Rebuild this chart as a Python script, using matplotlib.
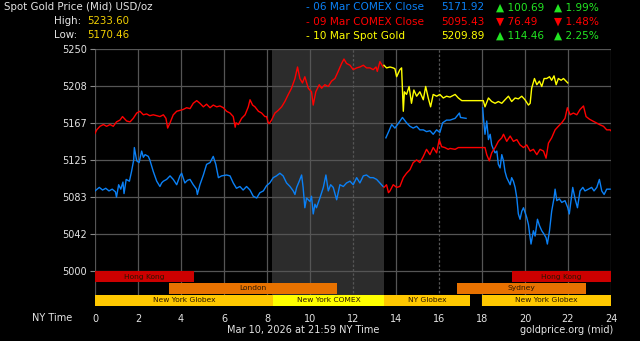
import matplotlib
matplotlib.use("Agg")
import matplotlib.pyplot as plt

# ------------------ data ------------------
# 06 Mar COMEX close line (blue), three pieces
blue_a_hours = [0.0, 0.2, 0.35, 0.5, 0.65, 0.8, 0.95, 1.0, 1.1, 1.2, 1.3, 1.35, 1.45, 1.6, 1.7,
                1.8, 1.83, 1.94, 2.05, 2.17, 2.25, 2.33, 2.48, 2.55, 2.71, 2.87, 3.02, 3.1, 3.18,
                3.33, 3.49, 3.64, 3.8, 3.95, 4.03, 4.18, 4.3, 4.42, 4.57, 4.72, 4.76, 4.88, 5.04,
                5.19, 5.35, 5.5, 5.62, 5.74, 5.89, 6.12, 6.28, 6.43, 6.58, 6.74, 6.89, 7.05, 7.21,
                7.36, 7.52, 7.67, 7.83, 7.98, 8.13, 8.29, 8.44, 8.6, 8.75, 8.91, 9.07, 9.22, 9.3,
                9.38, 9.5, 9.61, 9.68, 9.76, 9.84, 10.0, 10.07, 10.15, 10.23, 10.3, 10.46, 10.62,
                10.74, 10.85, 10.96, 11.08, 11.24, 11.39, 11.55, 11.7, 11.86, 12.01, 12.17, 12.32,
                12.48, 12.63, 12.79, 12.94, 13.1, 13.25, 13.4]
blue_a_prices = [5090, 5094, 5091, 5093, 5090, 5092, 5089, 5083, 5097, 5092, 5100, 5087, 5103, 5101, 5112,
                 5125, 5139, 5124, 5122, 5135, 5128, 5131, 5129, 5125, 5112, 5101, 5095, 5099, 5101,
                 5103, 5107, 5103, 5097, 5107, 5110, 5099, 5102, 5103, 5097, 5092, 5086, 5097, 5108,
                 5120, 5122, 5129, 5120, 5105, 5107, 5108, 5107, 5099, 5093, 5095, 5091, 5095, 5091,
                 5084, 5082, 5088, 5090, 5096, 5099, 5105, 5107, 5110, 5107, 5099, 5095, 5090, 5086,
                 5094, 5101, 5108, 5094, 5071, 5082, 5078, 5084, 5064, 5075, 5071, 5082, 5094,
                 5108, 5090, 5097, 5094, 5080, 5097, 5095, 5099, 5101, 5097, 5105, 5099,
                 5107, 5108, 5105, 5105, 5103, 5099, 5095]

blue_b_hours = [13.53, 13.64, 13.8, 13.95, 14.1, 14.3, 14.49, 14.65, 14.8, 14.96, 15.11, 15.27,
                15.42, 15.58, 15.73, 15.89, 16.04, 16.17, 16.35, 16.51, 16.75, 16.95, 17.0, 17.26]
blue_b_prices = [5150, 5156, 5165, 5161, 5166, 5173, 5167, 5163, 5161, 5163, 5159, 5159,
                 5157, 5158, 5154, 5159, 5156, 5167, 5170, 5170, 5172, 5178, 5173, 5172]

blue_c_hours = [18.03, 18.08, 18.14, 18.22, 18.3, 18.38, 18.45, 18.53, 18.61, 18.69, 18.76, 18.84,
                18.92, 19.0, 19.07, 19.15, 19.23, 19.31, 19.38, 19.46, 19.54, 19.62, 19.69, 19.77,
                19.85, 19.93, 20.0, 20.08, 20.16, 20.24, 20.28, 20.39, 20.47, 20.58, 20.67, 20.78,
                20.89, 20.98, 21.04, 21.14, 21.24, 21.35, 21.4, 21.48, 21.6, 21.71, 21.86, 21.99,
                22.06, 22.14, 22.22, 22.33, 22.44, 22.56, 22.69, 22.79, 22.95, 23.1, 23.21, 23.34,
                23.46, 23.57, 23.68, 23.8, 23.96]
blue_c_prices = [5184, 5169, 5154, 5169, 5148, 5154, 5142, 5137, 5133, 5135, 5120, 5116,
                 5131, 5124, 5112, 5105, 5101, 5097, 5105, 5101, 5094, 5082, 5064, 5058,
                 5067, 5071, 5066, 5060, 5052, 5037, 5030, 5045, 5039, 5058, 5051, 5045,
                 5041, 5037, 5030, 5045, 5067, 5082, 5092, 5079, 5081, 5077, 5079, 5071,
                 5064, 5079, 5094, 5081, 5071, 5090, 5094, 5090, 5092, 5094, 5090, 5094,
                 5103, 5090, 5086, 5092, 5092]

# 09 Mar COMEX close line (red), two pieces
red_a_hours = [0.0, 0.08, 0.23, 0.39, 0.54, 0.7, 0.85, 1.0, 1.16, 1.28, 1.47, 1.63, 1.78, 1.94,
               2.09, 2.25, 2.4, 2.55, 2.71, 2.87, 3.02, 3.18, 3.3, 3.38, 3.49, 3.64, 3.8, 3.95,
               4.1, 4.26, 4.42, 4.57, 4.73, 4.88, 5.04, 5.19, 5.35, 5.5, 5.66, 5.81, 5.97, 6.12,
               6.28, 6.43, 6.52, 6.56, 6.67, 6.82, 6.98, 7.13, 7.21, 7.33, 7.44, 7.6, 7.75, 7.9,
               7.98, 8.06, 8.1, 8.21, 8.37, 8.52, 8.68, 8.83, 8.99, 9.14, 9.3, 9.42, 9.53, 9.65,
               9.76, 9.92, 10.07, 10.15, 10.27, 10.43, 10.54, 10.69, 10.85, 11.0, 11.16, 11.31,
               11.47, 11.58, 11.7, 11.86, 12.01, 12.17, 12.32, 12.48, 12.63, 12.79, 12.94, 13.07,
               13.13, 13.25, 13.4]
red_a_prices = [5155, 5159, 5163, 5165, 5163, 5165, 5163, 5168, 5170, 5174, 5169, 5168, 5172, 5178,
                5180, 5176, 5177, 5175, 5176, 5175, 5174, 5176, 5172, 5161, 5167, 5176, 5180, 5181,
                5182, 5184, 5183, 5189, 5192, 5189, 5185, 5188, 5184, 5187, 5185, 5186, 5184, 5180,
                5178, 5174, 5162, 5167, 5165, 5172, 5176, 5185, 5193, 5187, 5185, 5180, 5178, 5174,
                5174, 5167, 5166, 5170, 5178, 5181, 5185, 5191, 5199, 5206, 5217, 5230, 5217, 5212,
                5219, 5206, 5202, 5187, 5202, 5210, 5206, 5210, 5208, 5214, 5217, 5225,
                5234, 5239, 5234, 5232, 5227, 5229, 5230, 5232, 5229, 5229, 5227, 5230,
                5225, 5236, 5230]

red_b_hours = [13.44, 13.56, 13.65, 13.72, 13.87, 14.03, 14.18, 14.34, 14.49, 14.65, 14.8, 14.96,
               15.11, 15.27, 15.42, 15.58, 15.73, 15.89, 16.01, 16.12, 16.27, 16.43, 16.51, 16.75,
               16.9, 17.06, 18.14, 18.22, 18.34, 18.45, 18.61, 18.76, 18.92, 19.0, 19.15, 19.31,
               19.46, 19.62, 19.77, 19.93, 20.08, 20.24, 20.39, 20.55, 20.7, 20.86, 20.98, 21.09,
               21.24, 21.4, 21.55, 21.71, 21.86, 21.97, 22.1, 22.25, 22.41, 22.56, 22.72, 22.84,
               23.0, 23.15, 23.31, 23.46, 23.65, 23.8, 23.96, 24.0]
red_b_prices = [5094, 5097, 5088, 5090, 5097, 5094, 5095, 5105, 5110, 5114, 5122, 5125,
                5122, 5129, 5137, 5131, 5139, 5133, 5148, 5140, 5139, 5137, 5138, 5137,
                5139, 5139, 5139, 5131, 5124, 5133, 5139, 5146, 5150, 5154, 5146, 5152,
                5146, 5148, 5142, 5139, 5142, 5135, 5137, 5131, 5137, 5135, 5127, 5144,
                5150, 5159, 5163, 5167, 5172, 5184, 5176, 5178, 5176, 5182, 5186, 5174,
                5171, 5169, 5167, 5165, 5163, 5159, 5159, 5158]

# 10 Mar spot gold (yellow)
yellow_hours = [13.44, 13.56, 13.72, 13.87, 13.95, 14.03, 14.18, 14.26, 14.34, 14.39, 14.49, 14.61,
                14.72, 14.83, 14.96, 15.11, 15.27, 15.38, 15.5, 15.61, 15.73, 15.89, 16.04, 16.2,
                16.35, 16.51, 16.75, 16.9, 17.06, 18.06, 18.14, 18.3, 18.45, 18.61, 18.76, 18.92,
                19.07, 19.23, 19.38, 19.54, 19.69, 19.85, 20.0, 20.16, 20.24, 20.31, 20.44, 20.55,
                20.67, 20.78, 20.89, 21.01, 21.14, 21.24, 21.35, 21.45, 21.55, 21.68, 21.79, 21.91,
                21.99]
yellow_prices = [5232, 5229, 5230, 5229, 5228, 5219, 5227, 5229, 5180, 5202, 5199, 5208,
                 5189, 5204, 5197, 5202, 5193, 5208, 5195, 5185, 5199, 5197, 5199, 5195,
                 5197, 5196, 5199, 5195, 5192, 5192, 5185, 5195, 5191, 5189, 5191, 5189,
                 5193, 5197, 5191, 5195, 5194, 5197, 5193, 5187, 5189, 5206, 5217, 5210,
                 5214, 5208, 5217, 5217, 5219, 5215, 5220, 5210, 5217, 5215, 5217, 5214,
                 5212]

y_ticks = [5000, 5041.67, 5083.33, 5125, 5166.67, 5208.33, 5250]
y_labels = ["5000", "5042", "5083", "5125", "5167", "5208", "5250"]
x_ticks = [0, 2, 4, 6, 8, 10, 12, 14, 16, 18, 20, 22, 24]

# market sessions: name, start hour, end hour, row (0 = top)
session_names = ["Hong Kong", "Hong Kong", "London", "Sydney", "New York Globex",
                 "New York COMEX", "NY Globex", "New York Globex"]
session_start = [0.0, 19.4, 3.43, 16.82, 0.0, 8.3, 13.45, 18.0]
session_end = [4.6, 24.0, 11.25, 22.84, 8.3, 13.45, 17.44, 24.0]
session_row = [0, 0, 1, 1, 2, 2, 2, 2]
session_colors = ["#cc0000", "#cc0000", "#e87200", "#e87200", "#ffc800",
                  "#ffff00", "#ffc800", "#ffc800"]

comex_shade = (8.25, 13.42)

legend_labels = ["- 06 Mar COMEX Close", "- 09 Mar COMEX Close", "- 10 Mar Spot Gold"]
legend_prices = ["5171.92", "5095.43", "5209.89"]
legend_changes = ["\u25b2 100.69", "\u25bc 76.49", "\u25b2 114.46"]
legend_pcts = ["\u25b2 1.99%", "\u25bc 1.48%", "\u25b2 2.25%"]
legend_up = [True, False, True]

high_val = "5233.60"
low_val = "5170.46"

# ------------------ style ------------------
BLUE = "#0b80f5"
RED = "#ff0000"
YELLOW = "#ffff00"
GREEN = "#22e622"
GOLD = "#f2d000"
TEXT = "#e4e4e4"
GRID = "#555555"
W, H = 640, 341


def fpos(x, y):
    # pixel position (top-left origin) -> figure fraction
    return x / W, 1 - y / H


fig = plt.figure(figsize=(6.4, 3.41), dpi=100, facecolor="black")
ax = fig.add_axes([95 / W, (H - 306) / H, 516 / W, (306 - 49.3) / H])
ax.set_facecolor("black")
ax.set_xlim(0, 24)
ax.set_ylim(4960, 5250)
for s in ax.spines.values():
    s.set_visible(False)

# grid
for yv in y_ticks:
    ax.axhline(yv, color=GRID, lw=0.9, zorder=1)
for xv in x_ticks:
    ls = (0, (2, 1.5)) if xv in (12, 16) else "-"
    ax.axvline(xv, color=GRID, lw=0.9, ls=ls, zorder=1)

ax.axvspan(comex_shade[0], comex_shade[1], color="#2c2c2c", lw=0, zorder=0.5)

# session bars
row_bottoms = [4986.8, 4973.6, 4960.2]
row_heights = [13.0, 12.6, 12.6]
for name, s0, s1, r, c in zip(session_names, session_start, session_end, session_row, session_colors):
    ax.broken_barh([(s0, s1 - s0)], (row_bottoms[r], row_heights[r]),
                   facecolors=c, edgecolor="none", zorder=2)
    ax.text((s0 + s1) / 2, row_bottoms[r] + row_heights[r] / 2, name,
            ha="center", va="center", fontsize=5.4, color="#2a1500", zorder=3)

# price lines
ax.plot(blue_a_hours, blue_a_prices, color=BLUE, lw=1.0, zorder=4)
ax.plot(blue_b_hours, blue_b_prices, color=BLUE, lw=1.0, zorder=4)
ax.plot(blue_c_hours, blue_c_prices, color=BLUE, lw=1.0, zorder=4)
ax.plot(red_a_hours, red_a_prices, color=RED, lw=1.0, zorder=4)
ax.plot(red_b_hours, red_b_prices, color=RED, lw=1.0, zorder=4)
ax.plot(yellow_hours, yellow_prices, color=YELLOW, lw=1.0, zorder=5)

# ticks
ax.set_yticks(y_ticks)
ax.set_yticklabels(y_labels)
ax.set_xticks(x_ticks)
ax.set_xticklabels([str(v) for v in x_ticks])
ax.tick_params(axis="y", length=3.6, width=0.8, color="#888888", pad=2,
               labelsize=7, labelcolor=TEXT)
ax.tick_params(axis="x", length=0, pad=6, labelsize=7, labelcolor=TEXT)

# header texts
fig.text(*fpos(4, 7), "Spot Gold Price (Mid) USD/oz", fontsize=7.4, color=TEXT, va="center")
fig.text(*fpos(54, 21), "High:", fontsize=7.4, color=TEXT, va="center")
fig.text(*fpos(87, 21), high_val, fontsize=7.4, color=GOLD, va="center")
fig.text(*fpos(54, 35), "Low:", fontsize=7.4, color=TEXT, va="center")
fig.text(*fpos(87, 35), low_val, fontsize=7.4, color=GOLD, va="center")

line_colors = [BLUE, RED, YELLOW]
for i, yy in enumerate([7.5, 22, 36]):
    c = line_colors[i]
    chg_c = GREEN if legend_up[i] else RED
    fig.text(*fpos(306, yy), legend_labels[i], fontsize=7.6, color=c, va="center")
    fig.text(*fpos(441, yy), legend_prices[i], fontsize=7.6, color=c, va="center")
    fig.text(*fpos(496, yy), legend_changes[i], fontsize=7.6, color=chg_c, va="center")
    fig.text(*fpos(554, yy), legend_pcts[i], fontsize=7.6, color=chg_c, va="center")

# footer texts
fig.text(*fpos(32, 318), "NY Time", fontsize=7, color=TEXT, va="center")
fig.text(*fpos(303, 330), "Mar 10, 2026 at 21:59 NY Time", fontsize=7, color=TEXT,
         ha="center", va="center")
fig.text(*fpos(613, 330), "goldprice.org (mid)", fontsize=7, color=TEXT, ha="right", va="center")

fig.savefig("out.png", dpi=100, facecolor="black")
